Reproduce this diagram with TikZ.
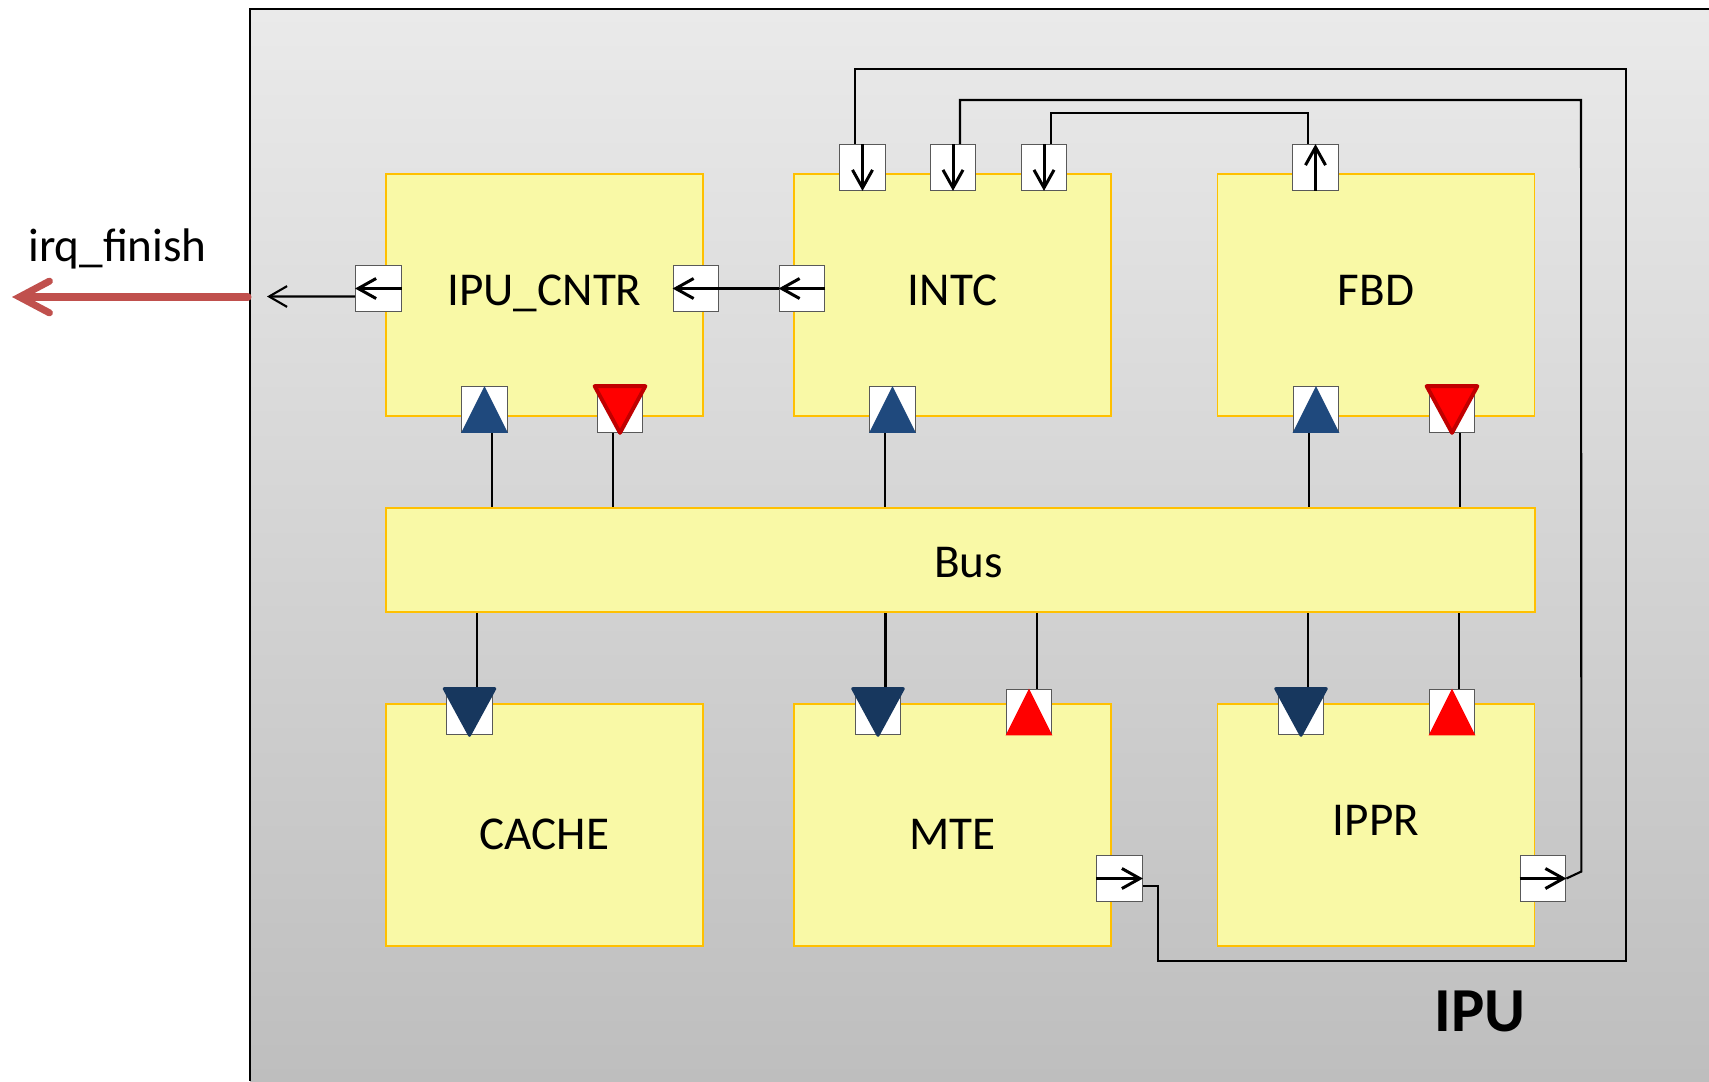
\documentclass[tikz,border=0pt]{standalone}
\usepackage{fontspec}
\setmainfont{Carlito}
\usetikzlibrary{arrows.meta}

\definecolor{blockfill}{RGB}{249,249,166}
\definecolor{blockline}{RGB}{255,192,0}
\definecolor{bgtop}{RGB}{234,234,234}
\definecolor{bgbottom}{RGB}{190,190,190}
\definecolor{upblue}{RGB}{31,73,125}
\definecolor{downblue}{RGB}{23,55,94}
\definecolor{irqred}{RGB}{192,80,77}
\definecolor{darkred}{RGB}{192,0,0}

\tikzset{
  block/.style={draw=blockline, fill=blockfill, line width=0.5pt, minimum width=3.17cm,
    minimum height=2.42cm, inner sep=0pt, font=\fontsize{13.4}{15}\selectfont,
    text height=0.29cm, text depth=0.09cm},
  port/.style={draw=black!65, fill=white, line width=0.35pt, minimum size=0.455cm, inner sep=0pt},
  wire/.style={line width=0.6pt},
  portarrow/.style={line width=0.85pt, -{Straight Barb[length=5.1pt, width=5.7pt]}},
  wirearrow/.style={line width=0.6pt, -{Straight Barb[length=5.1pt, width=5.9pt]}},
}

\begin{document}
\begin{tikzpicture}[x=0.01cm, y=-0.01cm]
  \useasboundingbox (0,0) rectangle (1709,1081);
  \shade[top color=bgtop, bottom color=bgbottom] (250,9) rectangle (1709,1081);
  \draw[line width=0.65pt] (1709,9) -- (250,9) -- (250,1081);

  \node[block] (cntr) at (544.5,295) {IPU\_CNTR};
  \node[block] (intc) at (952.5,295) {INTC};
  \node[block] (fbd) at (1376,295) {FBD};
  \node[block, minimum width=11.49cm, minimum height=1.045cm, text height=0.34cm, text depth=0cm] (bus) at (960.5,560) {\hspace{0.16cm}Bus};
  \node[block, text height=0.49cm, text depth=0cm] (cache) at (544.5,825) {CACHE};
  \node[block, text height=0.49cm, text depth=0cm] (mte) at (952.5,825) {MTE};
  \node[block] (ippr) at (1376,825) {IPPR};

  \node[port] (cntr-w) at (378.5,288.5) {};
  \node[port] (cntr-e) at (696,288.5) {};
  \node[port] (intc-w) at (802,288.5) {};
  \node[port] (intc-n1) at (862.5,167.5) {};
  \node[port] (intc-n2) at (953,167.5) {};
  \node[port] (intc-n3) at (1044,167.5) {};
  \node[port] (fbd-n) at (1315.5,167.5) {};
  \node[port] (cntr-s1) at (484.5,409.5) {};
  \node[port] (cntr-s2) at (620,409.5) {};
  \node[port] (intc-s) at (892.5,409.5) {};
  \node[port] (fbd-s1) at (1316,409.5) {};
  \node[port] (fbd-s2) at (1452,409.5) {};
  \node[port] (cache-n) at (469.5,712) {};
  \node[port] (mte-n1) at (878,712) {};
  \node[port] (mte-n2) at (1029,712) {};
  \node[port] (ippr-n1) at (1301,712) {};
  \node[port] (ippr-n2) at (1452,712) {};
  \node[port] (mte-e) at (1119.5,878.5) {};
  \node[port] (ippr-e) at (1543,878.5) {};

  \foreach \p/\dx in {cntr-s1/0.075cm, cntr-s2/-0.07cm, intc-s/-0.075cm, fbd-s1/-0.07cm, fbd-s2/0.08cm}
    \draw[wire] ([xshift=\dx]\p.south) -- ([xshift=\dx]\p.south |- bus.north);
  \foreach \p/\dx in {cache-n/0.075cm, mte-n1/0.075cm, mte-n2/0.08cm, ippr-n1/0.07cm, ippr-n2/0.07cm}
    \draw[wire] ([xshift=\dx]\p.north |- bus.south) -- ([xshift=\dx]\p.north);

  \foreach \p in {cntr-s1, intc-s, fbd-s1}
    \fill[upblue] (\p.south west) -- (\p.north) -- (\p.south east) -- cycle;
  \foreach \p in {mte-n2, ippr-n2}
    \fill[red] (\p.south west) -- (\p.north) -- (\p.south east) -- cycle;
  \foreach \p in {cntr-s2, fbd-s2}
    \filldraw[fill=red, draw=darkred, line width=1.1pt, line join=round]
      ([xshift=-0.02cm]\p.north west) -- (\p.south) -- ([xshift=0.02cm]\p.north east) -- cycle;
  \foreach \p in {cache-n, mte-n1, ippr-n1}
    \filldraw[downblue, line width=0.8pt, line join=round]
      ([xshift=-0.02cm]\p.north west) -- (\p.south) -- ([xshift=0.02cm]\p.north east) -- cycle;

  \foreach \p in {intc-n1, intc-n2, intc-n3}
    \draw[portarrow] (\p.north) -- (\p.south);
  \draw[portarrow] (fbd-n.south) -- (fbd-n.north);
  \foreach \p in {cntr-w, cntr-e, intc-w}
    \draw[portarrow] (\p.east) -- (\p.west);
  \foreach \p in {mte-e, ippr-e}
    \draw[portarrow] (\p.west) -- (\p.east);

  \draw[wire] (intc-w.west) -- (cntr-e.east);
  \coordinate (irqout) at (267,296.5);
  \draw[wirearrow] ([yshift=-0.08cm]cntr-w.west) -- (irqout);
  \draw[wire] ([yshift=-0.075cm]mte-e.east) -- ++(15,0) |- (1626,961) -- (1626,69)
    -| ([xshift=-0.075cm]intc-n1.north);
  \draw[wire] (ippr-e.east) -- ++(15,-7) -- (1581,100) -| ([xshift=0.07cm]intc-n2.north);
  \draw[wire] ([xshift=0.07cm]intc-n3.north) -- ++(0,-31) -| ([xshift=-0.075cm]fbd-n.north);

  \coordinate (ipuedge) at (248,297);
  \coordinate (irqtip) at (12,297);
  \draw[irqred, line width=2pt, line cap=round,
    -{Straight Barb[length=8.5pt, width=9pt, line cap=round]}] (ipuedge) -- (irqtip);
  \node[anchor=base, font=\fontsize{13.4}{15}\selectfont] (irq) at (117.5,261) {irq\_finish};
  \node[anchor=base, font=\fontsize{17.8}{20}\selectfont\bfseries] (ipu) at (1480,1031) {IPU};
\end{tikzpicture}
\end{document}
